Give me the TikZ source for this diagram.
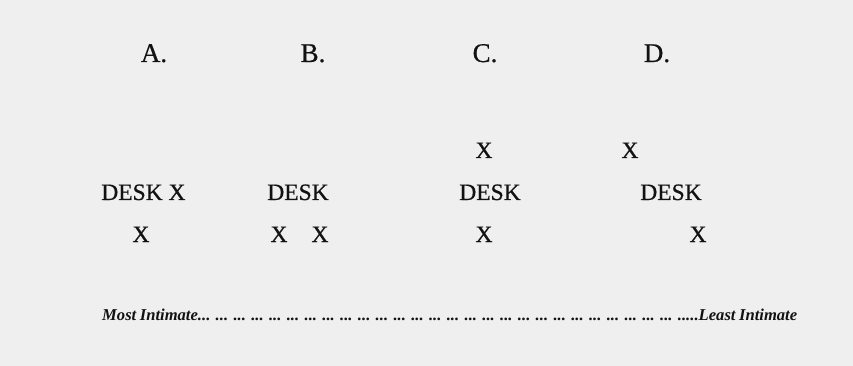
\documentclass[tikz,border=0pt]{standalone}
\usepackage{fontspec}
\setmainfont{Liberation Serif}
\definecolor{bg}{HTML}{EFEFEF}
\definecolor{ink}{HTML}{121212}
\begin{document}
\begin{tikzpicture}[x=1pt,y=-1pt,
  lbl/.style={anchor=base,inner sep=0pt,text=ink,font=\fontsize{27}{30}\selectfont\addfontfeature{FakeBold=0.6}},
  itm/.style={anchor=base,inner sep=0pt,text=ink,font=\fontsize{23.5}{26}\selectfont\addfontfeature{FakeBold=0.6}},
  scaleline/.style={anchor=base west,inner sep=0pt,text=ink,font=\fontsize{16.6}{20}\selectfont\bfseries\itshape}]
\fill[bg] (0,0) rectangle (853,366);
\useasboundingbox (0,0) rectangle (853,366);
% headings
\node[lbl] (hA) at (154,62) {A.};
\node[lbl] (hB) at (313,62) {B.};
\node[lbl] (hC) at (485,62) {C.};
\node[lbl] (hD) at (657,62) {D.};
% A
\node[itm] (dA) at (132,200) {DESK};
\node[itm] (xA1) at (177,200) {X};
\node[itm] (xA2) at (141,242) {X};
% B
\node[itm] (dB) at (298,200) {DESK};
\node[itm] (xB1) at (279,242) {X};
\node[itm] (xB2) at (320,242) {X};
% C
\node[itm] (xC1) at (484,158) {X};
\node[itm] (dC) at (490,200) {DESK};
\node[itm] (xC2) at (484,242) {X};
% D
\node[itm] (xD1) at (630,158) {X};
\node[itm] (dD) at (671,200) {DESK};
\node[itm] (xD2) at (698,242) {X};
% scale
\node[scaleline] (sc) at (102,320) {\makebox[695pt][s]{Most Intimate... ... ... ... ... ... ... ... ... ... ... ... ... ... ... ... ... ... ... ... ... ... ... ... ... ... ... .....Least Intimate}};
\end{tikzpicture}
\end{document}
